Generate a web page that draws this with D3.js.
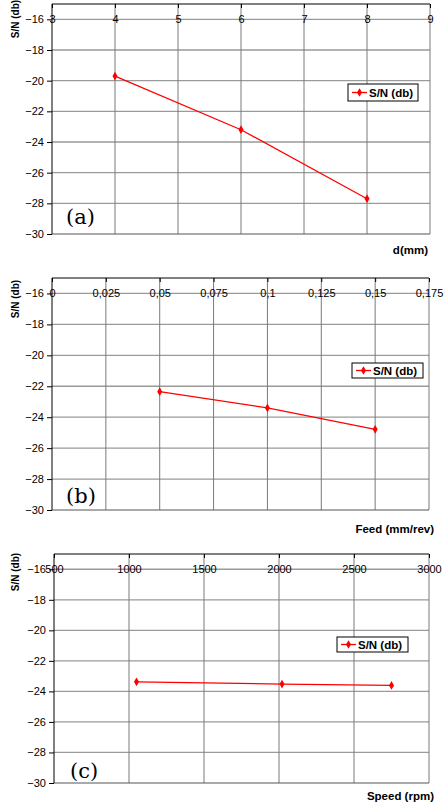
<!DOCTYPE html>
<html><head><meta charset="utf-8">
<script src="https://cdn.jsdelivr.net/npm/d3@7"></script>
<style>
html,body{margin:0;padding:0;background:#fff;}
svg{display:block;font-family:"Liberation Sans",Arial,sans-serif;}
</style></head>
<body>
<svg id="chart" width="445" height="809"></svg>
<script>
// ---- data ----
const seriesName = "S/N (db)";
const yTicks = [-30, -28, -26, -24, -22, -20, -18, -16];

const depthX = [4, 6, 8];
const depthSN = [-19.7, -23.2, -27.7];
const depthTicks = [3, 4, 5, 6, 7, 8, 9];

const feedX = [0.05, 0.1, 0.15];
const feedSN = [-22.35, -23.4, -24.78];
const feedTicks = [0, 0.025, 0.05, 0.075, 0.1, 0.125, 0.15, 0.175];

const speedX = [1050, 2020, 2750];
const speedSN = [-23.37, -23.52, -23.61];
const speedTicks = [500, 1000, 1500, 2000, 2500, 3000];

const panelLabels = ["(a)", "(b)", "(c)"];
const xTitles = ["d(mm)", "Feed (mm/rev)", "Speed (rpm)"];

// ---- layout ----
const commaLocale = d3.formatLocale({decimal: ",", thousands: ".", grouping: [3], currency: ["", ""]});
const panels = [
  {xs: depthX, ys: depthSN, ticks: depthTicks, xdom: [3, 9], fmt: d3.format("d"),
   top: 4, bottom: 234, left: 52, right: 430, ytitleY: 19, legend: {x: 348, y: 84, w: 70, h: 17},
   label: {x: 66, y: 224}, xtitle: {x: 428, y: 254}},
  {xs: feedX, ys: feedSN, ticks: feedTicks, xdom: [0, 0.175], fmt: commaLocale.format(".3~f"),
   top: 278, bottom: 510, left: 52, right: 429, ytitleY: 299, legend: {x: 352, y: 363, w: 71, h: 15},
   label: {x: 66, y: 503}, xtitle: {x: 434, y: 533}},
  {xs: speedX, ys: speedSN, ticks: speedTicks, xdom: [500, 3000], fmt: d3.format("d"),
   top: 554, bottom: 783, left: 54, right: 429, ytitleY: 572, legend: {x: 337, y: 637, w: 71, h: 15},
   label: {x: 70, y: 778}, xtitle: {x: 434, y: 800}}
];

const svg = d3.select("#chart");

panels.forEach((p, i) => {
  const g = svg.append("g");
  const x = d3.scaleLinear().domain(p.xdom).range([p.left, p.right]);
  const y = d3.scaleLinear().domain([-30, -15]).range([p.bottom, p.top]);

  // horizontal gridlines
  g.append("g").selectAll("line").data(yTicks.slice(1)).join("line")
    .attr("x1", p.left).attr("x2", p.right)
    .attr("y1", d => y(d)).attr("y2", d => y(d))
    .attr("stroke", "#9a9a9a").attr("stroke-width", 1.3);
  // vertical gridlines
  g.append("g").selectAll("line").data(p.ticks.slice(1)).join("line")
    .attr("x1", d => x(d)).attr("x2", d => x(d))
    .attr("y1", p.top).attr("y2", p.bottom)
    .attr("stroke", "#7a7a7a").attr("stroke-width", 1);
  // bottom border
  g.append("line").attr("x1", p.left).attr("x2", p.right)
    .attr("y1", y(-30)).attr("y2", y(-30)).attr("stroke", "#555").attr("stroke-width", 1);

  // left axis
  const yAxis = d3.axisLeft(y).tickValues(yTicks).tickSize(5).tickPadding(3).tickFormat(d3.format("d"));
  const ya = g.append("g").attr("transform", `translate(${p.left},0)`).call(yAxis);
  ya.select(".domain").attr("d", `M0,${p.top}V${p.bottom}`).attr("stroke", "#000");
  ya.selectAll("text").attr("font-size", 11).attr("font-family", "Liberation Sans, Arial, sans-serif").attr("fill", "#000");

  // top axis (x)
  const xAxis = d3.axisBottom(x).tickValues(p.ticks).tickSize(4).tickPadding(0).tickFormat(p.fmt);
  const xa = g.append("g").attr("transform", `translate(0,${p.top})`).call(xAxis);
  xa.select(".domain").attr("d", `M${p.left},0H${p.right}`).attr("stroke", "#000");
  xa.selectAll("text").attr("font-size", 11).attr("font-family", "Liberation Sans, Arial, sans-serif")
    .attr("fill", "#000").attr("y", y(-16) - p.top).attr("dy", "0.35em");

  // series line
  const pts = p.xs.map((d, k) => [d, p.ys[k]]);
  g.append("path").datum(pts)
    .attr("d", d3.line().x(d => x(d[0])).y(d => y(d[1])))
    .attr("fill", "none").attr("stroke", "#ff0000").attr("stroke-width", 1.3);
  g.append("g").selectAll("path").data(pts).join("path")
    .attr("transform", d => `translate(${x(d[0])},${y(d[1])})`)
    .attr("d", d3.symbol(d3.symbolDiamond, 22))
    .attr("fill", "#ff0000");

  // y title
  g.append("text").attr("transform", `translate(19,${p.ytitleY}) rotate(-90)`)
    .attr("text-anchor", "middle").attr("font-weight", "bold").attr("font-size", 10)
    .text(seriesName);

  // x title
  g.append("text").attr("x", p.xtitle.x).attr("y", p.xtitle.y)
    .attr("text-anchor", "end").attr("font-weight", "bold").attr("font-size", 11.5)
    .text(xTitles[i]);

  // panel label
  g.append("text").attr("x", p.label.x).attr("y", p.label.y)
    .attr("font-family", "DejaVu Serif, serif").attr("font-size", 21)
    .text(panelLabels[i]);

  // legend
  const L = p.legend;
  const lg = g.append("g");
  lg.append("rect").attr("x", L.x).attr("y", L.y).attr("width", L.w).attr("height", L.h)
    .attr("fill", "#fff").attr("stroke", "#000").attr("stroke-width", 1);
  const cy = L.y + L.h / 2;
  lg.append("line").attr("x1", L.x + 4).attr("x2", L.x + 19).attr("y1", cy).attr("y2", cy)
    .attr("stroke", "#ff0000").attr("stroke-width", 1.3);
  lg.append("path").attr("transform", `translate(${L.x + 11.5},${cy})`)
    .attr("d", d3.symbol(d3.symbolDiamond, 22)).attr("fill", "#ff0000");
  lg.append("text").attr("x", L.x + 21).attr("y", cy).attr("dy", "0.36em")
    .attr("font-weight", "bold").attr("font-size", 11.5).text(seriesName);
});
</script>
</body></html>
